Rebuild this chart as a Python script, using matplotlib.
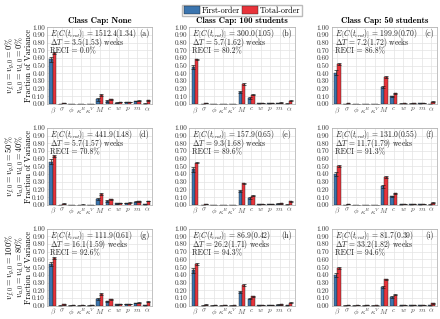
import numpy as np
import matplotlib
matplotlib.use("Agg")
import matplotlib.pyplot as plt
from matplotlib.patches import Patch

plt.rcParams['font.family'] = 'serif'
plt.rcParams['font.serif'] = ['cmr10', 'DejaVu Serif']
plt.rcParams['mathtext.fontset'] = 'cm'
plt.rcParams['axes.unicode_minus'] = False
plt.rcParams['axes.formatter.use_mathtext'] = True

# parameters on the x axis
params = [r'$\beta$', r'$\sigma$', r'$\phi$', r'$\kappa^R$', r'$\kappa^V$',
          r'$M$', r'$c$', r'$w$', r'$p$', r'$m$', r'$\alpha$']

col_titles = ['Class Cap: None', 'Class Cap: 100 students', 'Class Cap: 50 students']
row_fg = [r'$v_{f,0} = v_{g,0} = 0\%$', r'$v_{f,0} = v_{g,0} = 50\%$', r'$v_{f,0} = v_{g,0} = 100\%$']
row_ad = [r'$v_{a,0} = v_{d,0} = 0\%$', r'$v_{a,0} = v_{d,0} = 40\%$', r'$v_{a,0} = v_{d,0} = 80\%$']
panel_tags = ['(a)', '(b)', '(c)', '(d)', '(e)', '(f)', '(g)', '(h)', '(i)']

cost = ['1512.4(1.34)', '300.0(1.05)', '199.9(0.70)',
        '441.9(1.48)', '157.9(0.65)', '131.0(0.55)',
        '111.9(0.61)', '86.9(0.42)', '81.7(0.39)']
delta_t = ['3.5(1.53)', '5.7(1.62)', '7.2(1.72)',
           '5.7(1.57)', '9.3(1.68)', '11.7(1.79)',
           '16.1(1.59)', '26.2(1.71)', '33.2(1.82)']
reci = ['0.0', '80.2', '86.8', '70.8', '89.6', '91.3', '92.6', '94.3', '94.6']

# first-order indices per panel
first_order = [
    [0.58, 0.00, 0.00, 0.00, 0.00, 0.06, 0.04, 0.020, 0.025, 0.040, 0.005],
    [0.48, 0.00, 0.00, 0.00, 0.00, 0.16, 0.08, 0.010, 0.010, 0.015, 0.004],
    [0.41, 0.00, 0.00, 0.00, 0.00, 0.22, 0.10, 0.005, 0.005, 0.008, 0.003],
    [0.56, 0.00, 0.00, 0.00, 0.00, 0.08, 0.05, 0.020, 0.025, 0.040, 0.005],
    [0.46, 0.00, 0.00, 0.00, 0.00, 0.18, 0.09, 0.008, 0.010, 0.015, 0.004],
    [0.40, 0.00, 0.00, 0.00, 0.00, 0.24, 0.11, 0.005, 0.005, 0.008, 0.003],
    [0.54, 0.00, 0.00, 0.00, 0.00, 0.09, 0.055, 0.015, 0.020, 0.035, 0.005],
    [0.46, 0.00, 0.00, 0.00, 0.00, 0.18, 0.09, 0.005, 0.008, 0.012, 0.004],
    [0.40, 0.00, 0.00, 0.00, 0.00, 0.24, 0.11, 0.005, 0.005, 0.006, 0.003],
]
# total-order indices per panel
total_order = [
    [0.66, 0.015, 0.003, 0.005, 0.003, 0.12, 0.06, 0.025, 0.030, 0.045, 0.050],
    [0.58, 0.012, 0.003, 0.003, 0.002, 0.26, 0.12, 0.012, 0.012, 0.020, 0.045],
    [0.52, 0.010, 0.003, 0.003, 0.002, 0.35, 0.14, 0.008, 0.008, 0.012, 0.030],
    [0.64, 0.015, 0.003, 0.004, 0.003, 0.14, 0.07, 0.025, 0.030, 0.045, 0.050],
    [0.55, 0.010, 0.003, 0.003, 0.002, 0.28, 0.12, 0.010, 0.012, 0.020, 0.045],
    [0.50, 0.010, 0.003, 0.003, 0.002, 0.36, 0.15, 0.008, 0.008, 0.010, 0.030],
    [0.62, 0.015, 0.003, 0.003, 0.003, 0.15, 0.08, 0.018, 0.025, 0.040, 0.050],
    [0.54, 0.012, 0.003, 0.003, 0.002, 0.27, 0.12, 0.008, 0.010, 0.015, 0.040],
    [0.49, 0.010, 0.003, 0.003, 0.002, 0.34, 0.14, 0.006, 0.006, 0.008, 0.030],
]
# error bar half-widths
first_err = [0.03, 0.004, 0.002, 0.002, 0.002, 0.015, 0.01, 0.004, 0.004, 0.005, 0.004]
total_err = [0.012, 0.003, 0.001, 0.001, 0.001, 0.01, 0.006, 0.002, 0.002, 0.003, 0.004]

blue = '#3b75af'
red = '#e8333a'

fig, axes = plt.subplots(3, 3, figsize=(4.4, 3.19), dpi=100)
fig.subplots_adjust(left=0.107, right=0.993, top=0.915, bottom=0.042,
                    wspace=0.35, hspace=0.31)

x = np.arange(len(params))
w = 0.36
for k, ax in enumerate(axes.flat):
    r, c = divmod(k, 3)
    ax.set_axisbelow(True)
    ax.grid(True, color='#e3e3e3', linewidth=0.5)
    ax.bar(x - w / 2, first_order[k], w, color=blue, edgecolor='#222222', linewidth=0.3,
           yerr=first_err, error_kw=dict(ecolor='#222222', elinewidth=0.5, capsize=1.2, capthick=0.5))
    ax.bar(x + w / 2, total_order[k], w, color=red, edgecolor='#222222', linewidth=0.3,
           yerr=total_err, error_kw=dict(ecolor='#222222', elinewidth=0.5, capsize=1.2, capthick=0.5))
    ax.set_xlim(-0.6, 10.6)
    ax.set_ylim(0, 1.0)
    ax.set_yticks(np.arange(0, 1.01, 0.1))
    ax.set_yticklabels(['%.2f' % v for v in np.arange(0, 1.01, 0.1)])
    ax.set_xticks(x)
    ax.set_xticklabels(params)
    ax.tick_params(labelsize=5.2, length=0, pad=1.5)
    ax.tick_params(axis='x', labelsize=5.3, colors='#555555', pad=1)
    ax.tick_params(axis='y', labelcolor='#333333')
    for s in ax.spines.values():
        s.set_color('#aaaaaa')
        s.set_linewidth(0.5)
    ax.text(0.03, 0.915, r'$E\,\left[C(t_{end})\right]$ = ' + cost[k],
            transform=ax.transAxes, fontsize=5.5, va='center', ha='left', color='#222222')
    ax.text(0.03, 0.795, r'$\Delta T$ = ' + delta_t[k] + ' weeks',
            transform=ax.transAxes, fontsize=5.5, va='center', ha='left', color='#222222')
    ax.text(0.03, 0.685, 'RECI = ' + reci[k] + '%',
            transform=ax.transAxes, fontsize=5.5, va='center', ha='left', color='#222222')
    ax.text(0.97, 0.915, panel_tags[k], transform=ax.transAxes,
            fontsize=5.8, va='center', ha='right', color='#222222')
    if r == 0:
        ax.set_title(col_titles[c], fontsize=6.3, family='cmb10', pad=3)
    if c == 0:
        ax.set_ylabel('Fraction of Variance', fontsize=5.8)
        ax.yaxis.set_label_coords(-14 / 105, 0.5)

for r in range(3):
    pos = axes[r, 0].get_position()
    yc = (pos.y0 + pos.y1) / 2
    fig.text(10 / 440, yc, row_fg[r], rotation=90, ha='center', va='center', fontsize=6.0)
    fig.text(20.5 / 440, yc, row_ad[r], rotation=90, ha='center', va='center', fontsize=6.0)

handles = [Patch(facecolor=blue, edgecolor='#222222', linewidth=0.3, label='First-order'),
           Patch(facecolor=red, edgecolor='#222222', linewidth=0.3, label='Total-order')]
axes[0, 1].legend(handles=handles, loc='lower center', bbox_to_anchor=(0.5, 1.14), ncol=2,
                  fontsize=5.8, frameon=True, fancybox=False, edgecolor='#aaaaaa',
                  handlelength=2.0, handleheight=1.0, columnspacing=0.3, handletextpad=0.2,
                  borderpad=0.2, borderaxespad=0)

fig.savefig('out.png', dpi=100)
